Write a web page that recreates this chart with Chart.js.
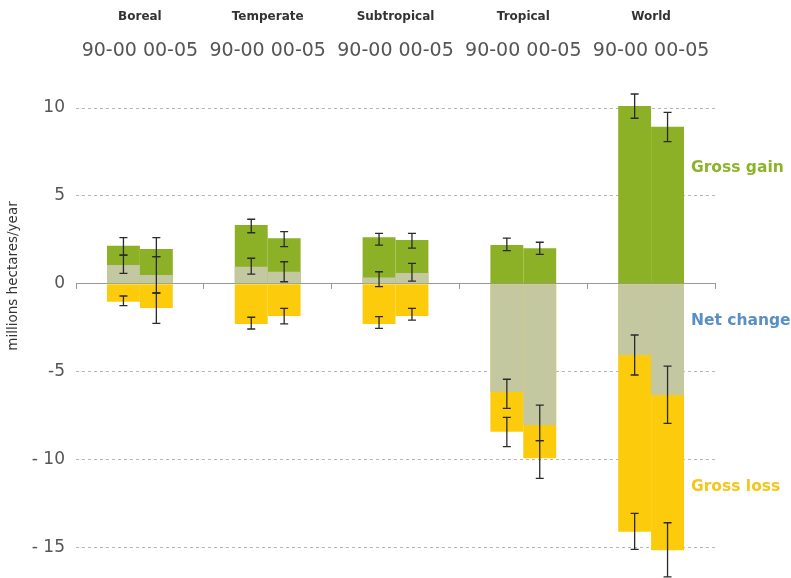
<!DOCTYPE html>
<html>
<head>
<meta charset="utf-8">
<title>Forest area change by climatic domain</title>
<script src="https://cdn.jsdelivr.net/npm/chart.js@4.4.1/dist/chart.umd.min.js"></script>
<style>
  html, body { margin: 0; padding: 0; background: #fff; }
  #wrap { position: relative; width: 791px; height: 578px; }
</style>
</head>
<body>
<div id="wrap"><canvas id="myChart"></canvas></div>
<script>
var domains = ['Boreal', 'Temperate', 'Subtropical', 'Tropical', 'World'];
var periods = ['90-00', '00-05'];

// million hectares / year
var gain9000 = [2.16, 3.34, 2.64, 2.20, 10.12];
var gain0005 = [1.98, 2.59, 2.49, 2.02, 8.94];
var net9000 = [1.06, 0.97, 0.35, -6.15, -4.06];
var net0005 = [0.50, 0.68, 0.61, -8.05, -6.34];
var loss9000 = [-1.03, -2.29, -2.29, -8.43, -14.12];
var loss0005 = [-1.38, -1.84, -1.84, -9.94, -15.17];

// error ranges [low, high]
var gainErr9000 = [[1.63, 2.62], [2.90, 3.67], [2.20, 2.87], [1.88, 2.59], [9.42, 10.80]];
var gainErr0005 = [[1.54, 2.62], [2.11, 2.96], [2.02, 2.87], [1.67, 2.36], [8.09, 9.76]];
var netErr9000 = [[0.59, 1.63], [0.54, 1.45], [-0.17, 0.68], [-7.10, -5.44], [-5.20, -2.92]];
var netErr0005 = [[-0.53, 1.54], [0.11, 1.25], [0.15, 1.16], [-8.94, -6.91], [-7.95, -4.69]];
var lossErr9000 = [[-1.25, -0.70], [-2.58, -1.91], [-2.54, -1.88], [-9.28, -7.61], [-15.13, -13.08]];
var lossErr0005 = [[-2.26, -0.53], [-2.29, -1.40], [-2.07, -1.40], [-11.08, -8.94], [-16.69, -13.61]];

var seriesNames = ['Gross gain', 'Net change', 'Gross loss'];
var seriesLabelAt = [6.58, -2.12, -11.58];

var yTicks = [10, 5, 0, -5, -10, -15];

var colGain = '#8db126';
var colNet = '#c3c8a0';
var colLoss = '#fccb0b';
var seriesText = ['#8db32a', '#5a8fc4', '#f5c518'];

// draw order: first dataset ends up on top
var datasets = [
  { label: 'Net change 90-00', data: net9000, backgroundColor: colNet, stack: 'p1' },
  { label: 'Net change 00-05', data: net0005, backgroundColor: colNet, stack: 'p2' },
  { label: 'Gross gain 90-00', data: gain9000, backgroundColor: colGain, stack: 'p1' },
  { label: 'Gross gain 00-05', data: gain0005, backgroundColor: colGain, stack: 'p2' },
  { label: 'Gross loss 90-00', data: loss9000, backgroundColor: colLoss, stack: 'p1' },
  { label: 'Gross loss 00-05', data: loss0005, backgroundColor: colLoss, stack: 'p2' }
];

// dataset index used for x position of each error set
var errorSets = [
  { ds: 2, ranges: gainErr9000 }, { ds: 3, ranges: gainErr0005 },
  { ds: 0, ranges: netErr9000 }, { ds: 1, ranges: netErr0005 },
  { ds: 4, ranges: lossErr9000 }, { ds: 5, ranges: lossErr0005 }
];

var errorBars = {
  id: 'errorBars',
  afterDatasetsDraw(chart) {
    var c = chart.ctx, y = chart.scales.y;
    c.save();
    c.strokeStyle = '#2a2a2a';
    c.lineWidth = 1.3;
    errorSets.forEach(function (set) {
      var meta = chart.getDatasetMeta(set.ds);
      set.ranges.forEach(function (r, i) {
        var x = meta.data[i].x;
        var y1 = y.getPixelForValue(r[0]), y2 = y.getPixelForValue(r[1]);
        c.beginPath();
        c.moveTo(x, y1); c.lineTo(x, y2);
        c.moveTo(x - 4, y1); c.lineTo(x + 4, y1);
        c.moveTo(x - 4, y2); c.lineTo(x + 4, y2);
        c.stroke();
      });
    });
    c.restore();
  }
};

var textLabels = {
  id: 'textLabels',
  afterDraw(chart) {
    var c = chart.ctx, xs = chart.scales.x, ys = chart.scales.y;
    c.save();
    c.textAlign = 'center';
    c.textBaseline = 'middle';
    domains.forEach(function (d, i) {
      var x = xs.getPixelForValue(i);
      c.fillStyle = '#333';
      c.font = 'bold 12px "DejaVu Sans"';
      c.fillText(d, x, 17);
      c.fillStyle = '#555';
      c.font = '19px "DejaVu Sans"';
      c.fillText(periods.join(' '), x, 51);
    });

    // series names to the right of the World bars
    var last = chart.getDatasetMeta(3).data[domains.length - 1];
    var lx = last.x + last.width / 2 + 7;
    c.textAlign = 'left';
    c.font = 'bold 15.5px "DejaVu Sans"';
    seriesNames.forEach(function (s, i) {
      c.fillStyle = seriesText[i];
      c.fillText(s, lx, ys.getPixelForValue(seriesLabelAt[i]));
    });

    // y axis title
    c.translate(13, 276);
    c.rotate(-Math.PI / 2);
    c.textAlign = 'center';
    c.fillStyle = '#333';
    c.font = '13.5px "DejaVu Sans"';
    c.fillText('millions hectares/year', 0, 0);
    c.restore();
  }
};

var ctx = document.getElementById('myChart').getContext('2d');

var chart = new Chart(ctx, {
  type: 'bar',
  data: { labels: domains, datasets: datasets },
  options: {
    responsive: true,
    maintainAspectRatio: false,
    animation: false,
    layout: { padding: { top: 90.5, bottom: 1, left: 0, right: 76 } },
    datasets: { bar: { categoryPercentage: 0.515, barPercentage: 1.0, borderWidth: 0 } },
    plugins: { legend: { display: false }, tooltip: { enabled: false } },
    scales: {
      x: {
        position: { y: 0 },
        offset: true,
        afterFit(scale) { scale.height = 0; },
        grid: { offset: true, drawOnChartArea: false, drawTicks: true, tickLength: 5, tickColor: '#999' },
        border: { color: '#999', width: 1 },
        ticks: { display: false }
      },
      y: {
        stacked: false,
        min: -16.7,
        max: 11,
        afterFit(scale) {
          scale.width = 76;
          scale.paddingTop = 0;
          scale.paddingBottom = 0;
        },
        afterBuildTicks(scale) { scale.ticks = yTicks.map(function (v) { return { value: v }; }); },
        grid: {
          drawTicks: false,
          color: function (c) { return c.tick && c.tick.value === 0 ? 'rgba(0,0,0,0)' : '#b5b5b5'; },
          lineWidth: 1
        },
        border: { display: false, dash: [3, 3] },
        ticks: {
          padding: 11,
          color: '#555',
          font: { family: 'DejaVu Sans', size: 17 },
          callback: function (v) { return v <= -10 ? '- ' + Math.abs(v) : String(v); }
        }
      }
    }
  },
  plugins: [errorBars, textLabels]
});
</script>
</body>
</html>
